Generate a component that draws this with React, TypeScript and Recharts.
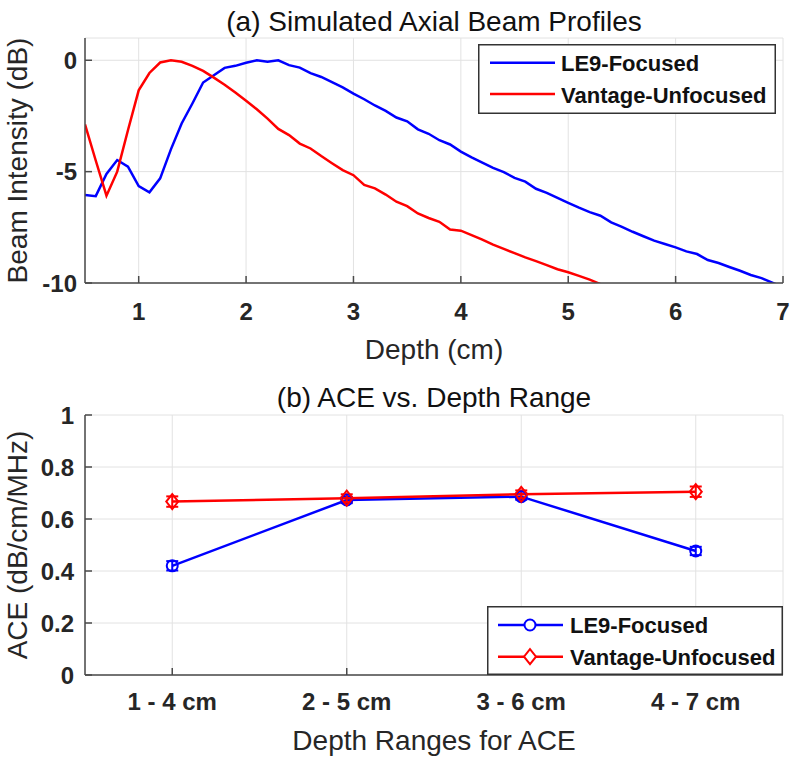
import { LineChart, Line, XAxis, YAxis, CartesianGrid, Legend, ErrorBar } from 'recharts';

// (a) axial beam profiles, sampled every 0.1 cm
const depthCm = [
  0.5, 0.6, 0.7, 0.8, 0.9, 1.0, 1.1, 1.2, 1.3, 1.4,
  1.5, 1.6, 1.7, 1.8, 1.9, 2.0, 2.1, 2.2, 2.3, 2.4,
  2.5, 2.6, 2.7, 2.8, 2.9, 3.0, 3.1, 3.2, 3.3, 3.4,
  3.5, 3.6, 3.7, 3.8, 3.9, 4.0, 4.1, 4.2, 4.3, 4.4,
  4.5, 4.6, 4.7, 4.8, 4.9, 5.0, 5.1, 5.2, 5.3, 5.4,
  5.5, 5.6, 5.7, 5.8, 5.9, 6.0, 6.1, 6.2, 6.3, 6.4,
  6.5, 6.6, 6.7, 6.8, 6.9, 7.0,
];
const le9Profile = [
  -6.05, -6.1, -5.1, -4.48, -4.78, -5.65, -5.93, -5.3, -4.0, -2.84,
  -1.94, -1.0, -0.67, -0.34, -0.25, -0.11, 0, -0.07, 0, -0.22,
  -0.33, -0.58, -0.75, -0.98, -1.22, -1.5, -1.75, -2.03, -2.27, -2.57,
  -2.74, -3.1, -3.3, -3.59, -3.78, -4.1, -4.36, -4.6, -4.83, -5.02,
  -5.28, -5.45, -5.77, -5.95, -6.18, -6.4, -6.62, -6.82, -6.98, -7.28,
  -7.48, -7.7, -7.9, -8.1, -8.25, -8.4, -8.58, -8.7, -8.97, -9.1,
  -9.28, -9.45, -9.64, -9.78, -9.98, -10.2,
];
const vantageProfile = [
  -2.88, -4.5, -6.08, -5.0, -3.14, -1.35, -0.57, -0.1, 0, -0.07,
  -0.25, -0.48, -0.78, -1.1, -1.45, -1.82, -2.2, -2.62, -3.08, -3.36,
  -3.74, -3.96, -4.3, -4.62, -4.93, -5.16, -5.6, -5.75, -6.03, -6.35,
  -6.55, -6.88, -7.08, -7.25, -7.6, -7.65, -7.85, -8.05, -8.28, -8.47,
  -8.66, -8.85, -9.02, -9.2, -9.38, -9.52, -9.68, -9.85, -10.05,
];
const depthTicks = [1, 2, 3, 4, 5, 6, 7];
const dbTicks = [-10, -5, 0];

// (b) ACE per depth range
const depthRanges = ['1 - 4 cm', '2 - 5 cm', '3 - 6 cm', '4 - 7 cm'];
const le9Ace = [0.42, 0.673, 0.686, 0.477];
const le9AceErr = [0.018, 0.012, 0.012, 0.016];
const vantageAce = [0.667, 0.68, 0.695, 0.705];
const vantageAceErr = [0.02, 0.015, 0.015, 0.02];
const aceTicks = [0, 0.2, 0.4, 0.6, 0.8, 1];

const BLUE = '#0000ff';
const RED = '#ff0000';
const AXIS = '#4a4a4a';
const GRID = '#e2e2e2';
const FONT = '"Liberation Sans", Arial, Helvetica, sans-serif';

const profileData = depthCm.map((d, i) => ({
  depth: d,
  le9: le9Profile[i],
  vantage: vantageProfile[i] ?? null,
}));

const aceData = depthRanges.map((r, i) => ({
  pos: i + 1,
  range: r,
  le9: le9Ace[i],
  le9Err: le9AceErr[i],
  vantage: vantageAce[i],
  vantageErr: vantageAceErr[i],
}));

const tickStyle = { fontSize: 24, fontWeight: 700, fill: '#262626', fontFamily: FONT };

const CircleDot = (props: any) => {
  const { cx, cy } = props;
  if (cx == null || cy == null) return <g />;
  return <circle cx={cx} cy={cy} r={5.5} fill="none" stroke={BLUE} strokeWidth={2} />;
};

const DiamondDot = (props: any) => {
  const { cx, cy } = props;
  if (cx == null || cy == null) return <g />;
  return (
    <path
      d={`M${cx},${cy - 7.5} L${cx + 6},${cy} L${cx},${cy + 7.5} L${cx - 6},${cy} Z`}
      fill="none"
      stroke={RED}
      strokeWidth={2}
    />
  );
};

type LegendRow = { name: string; color: string; marker?: 'circle' | 'diamond' };

function LegendBox({ width, height, rows, rowY, lineX, textX, markerX, textDy }: {
  width: number; height: number; rows: LegendRow[]; rowY: number[];
  lineX: [number, number]; textX: number; markerX?: number; textDy: number;
}) {
  return (
    <svg width={width} height={height} style={{ display: 'block' }}>
      <rect x={0.75} y={0.75} width={width - 1.5} height={height - 1.5} fill="#fff" stroke="#333" strokeWidth={1.5} />
      {rows.map((r, i) => {
        const y = rowY[i];
        return (
          <g key={r.name}>
            <line x1={lineX[0]} y1={y} x2={lineX[1]} y2={y} stroke={r.color} strokeWidth={2.5} />
            {r.marker === 'circle' && markerX != null && (
              <circle cx={markerX} cy={y} r={5.5} fill="#fff" stroke={r.color} strokeWidth={2} />
            )}
            {r.marker === 'diamond' && markerX != null && (
              <path d={`M${markerX},${y - 7.5} L${markerX + 6},${y} L${markerX},${y + 7.5} L${markerX - 6},${y} Z`}
                fill="#fff" stroke={r.color} strokeWidth={2} />
            )}
            <text x={textX} y={y + textDy} fontSize={22} fontWeight={700} fill="#111" fontFamily={FONT}>
              {r.name}
            </text>
          </g>
        );
      })}
    </svg>
  );
}

function ProfileChart() {
  return (
    <LineChart width={800} height={380} data={profileData} margin={{ top: 38, right: 17, bottom: 0, left: 0 }}>
      <CartesianGrid stroke={GRID} strokeWidth={1} />
      <XAxis dataKey="depth" type="number" domain={[0.5, 7]} ticks={depthTicks} interval={0}
        allowDataOverflow height={97} tickSize={-7} tickMargin={27} tick={tickStyle}
        axisLine={{ stroke: AXIS, strokeWidth: 1.5 }} tickLine={{ stroke: AXIS, strokeWidth: 1.5 }} />
      <XAxis xAxisId="top" orientation="top" dataKey="depth" type="number" domain={[0.5, 7]} ticks={depthTicks}
        interval={0} allowDataOverflow mirror height={0} tick={false} tickSize={7}
        axisLine={{ stroke: AXIS, strokeWidth: 1.5 }} tickLine={{ stroke: AXIS, strokeWidth: 1.5 }} />
      <YAxis type="number" domain={[-10, 1]} ticks={dbTicks} interval={0} allowDataOverflow width={85}
        tickSize={-7} tickMargin={15} tick={tickStyle}
        axisLine={{ stroke: AXIS, strokeWidth: 1.5 }} tickLine={{ stroke: AXIS, strokeWidth: 1.5 }} />
      <YAxis yAxisId="right" orientation="right" type="number" domain={[-10, 1]} ticks={dbTicks} interval={0}
        allowDataOverflow mirror width={0} tick={false} tickSize={7}
        axisLine={{ stroke: AXIS, strokeWidth: 1.5 }} tickLine={{ stroke: AXIS, strokeWidth: 1.5 }} />
      <Line dataKey="le9" name="LE9-Focused" stroke={BLUE} strokeWidth={2.5} dot={false} type="linear" isAnimationActive={false} />
      <Line dataKey="vantage" name="Vantage-Unfocused" stroke={RED} strokeWidth={2.5} dot={false} type="linear" isAnimationActive={false} />
      <Legend layout="vertical" align="center" verticalAlign="middle" width={298} height={70}
        wrapperStyle={{ left: 478, top: 44, width: 298, height: 70 }}
        content={() => (
          <LegendBox width={298} height={70} rowY={[18.7, 50]} lineX={[12, 77]} textX={83} textDy={8.5}
            rows={[{ name: 'LE9-Focused', color: BLUE }, { name: 'Vantage-Unfocused', color: RED }]} />
        )} />
    </LineChart>
  );
}

function AceChart() {
  return (
    <LineChart width={800} height={380} data={aceData} margin={{ top: 35, right: 17, bottom: 0, left: 0 }}>
      <CartesianGrid stroke={GRID} strokeWidth={1} />
      <XAxis dataKey="pos" type="number" domain={[0.5, 4.5]} ticks={[1, 2, 3, 4]} interval={0}
        tickFormatter={(v: number) => depthRanges[v - 1]} height={85} tickSize={-7} tickMargin={25} tick={tickStyle}
        axisLine={{ stroke: AXIS, strokeWidth: 1.5 }} tickLine={{ stroke: AXIS, strokeWidth: 1.5 }} />
      <XAxis xAxisId="top" orientation="top" dataKey="pos" type="number" domain={[0.5, 4.5]} ticks={[1, 2, 3, 4]}
        interval={0} mirror height={0} tick={false} tickSize={7}
        axisLine={{ stroke: AXIS, strokeWidth: 1.5 }} tickLine={{ stroke: AXIS, strokeWidth: 1.5 }} />
      <YAxis type="number" domain={[0, 1]} ticks={aceTicks} interval={0} width={85}
        tickSize={-7} tickMargin={18} tick={tickStyle}
        axisLine={{ stroke: AXIS, strokeWidth: 1.5 }} tickLine={{ stroke: AXIS, strokeWidth: 1.5 }} />
      <YAxis yAxisId="right" orientation="right" type="number" domain={[0, 1]} ticks={aceTicks} interval={0}
        mirror width={0} tick={false} tickSize={7}
        axisLine={{ stroke: AXIS, strokeWidth: 1.5 }} tickLine={{ stroke: AXIS, strokeWidth: 1.5 }} />
      <Line dataKey="le9" name="LE9-Focused" stroke={BLUE} strokeWidth={2.5} type="linear"
        dot={<CircleDot />} activeDot={false} isAnimationActive={false}>
        <ErrorBar dataKey="le9Err" width={6} strokeWidth={2} stroke={BLUE} direction="y" isAnimationActive={false} />
      </Line>
      <Line dataKey="vantage" name="Vantage-Unfocused" stroke={RED} strokeWidth={2.5} type="linear"
        dot={<DiamondDot />} activeDot={false} isAnimationActive={false}>
        <ErrorBar dataKey="vantageErr" width={6} strokeWidth={2} stroke={RED} direction="y" isAnimationActive={false} />
      </Line>
      <Legend layout="vertical" align="center" verticalAlign="middle" width={296} height={69}
        wrapperStyle={{ left: 487, top: 226, width: 296, height: 69 }}
        content={() => (
          <LegendBox width={296} height={69} rowY={[19, 50.7]} lineX={[11, 76]} markerX={43} textX={83} textDy={8}
            rows={[
              { name: 'LE9-Focused', color: BLUE, marker: 'circle' },
              { name: 'Vantage-Unfocused', color: RED, marker: 'diamond' },
            ]} />
        )} />
    </LineChart>
  );
}

export default function App() {
  const labelStyle = { fontSize: 28, fill: '#262626', fontFamily: FONT };
  return (
    <div style={{ position: 'absolute', left: 0, top: 0, width: 800, height: 760, background: '#fff' }}>
      <div style={{ position: 'absolute', left: 0, top: 0 }}>
        <ProfileChart />
      </div>
      <div style={{ position: 'absolute', left: 0, top: 380 }}>
        <AceChart />
      </div>
      <svg width={800} height={760} style={{ position: 'absolute', left: 0, top: 0, pointerEvents: 'none' }}>
        <text x={434} y={31} textAnchor="middle" {...labelStyle} fill="#111">(a) Simulated Axial Beam Profiles</text>
        <text x={434} y={359} textAnchor="middle" {...labelStyle}>Depth (cm)</text>
        <text x={27} y={160.5} textAnchor="middle" transform="rotate(-90 27 160.5)" {...labelStyle}>Beam Intensity (dB)</text>
        <text x={434} y={407} textAnchor="middle" {...labelStyle} fill="#111">(b) ACE vs. Depth Range</text>
        <text x={434} y={750} textAnchor="middle" {...labelStyle}>Depth Ranges for ACE</text>
        <text x={27} y={545} textAnchor="middle" transform="rotate(-90 27 545)" {...labelStyle}>ACE (dB/cm/MHz)</text>
      </svg>
    </div>
  );
}
